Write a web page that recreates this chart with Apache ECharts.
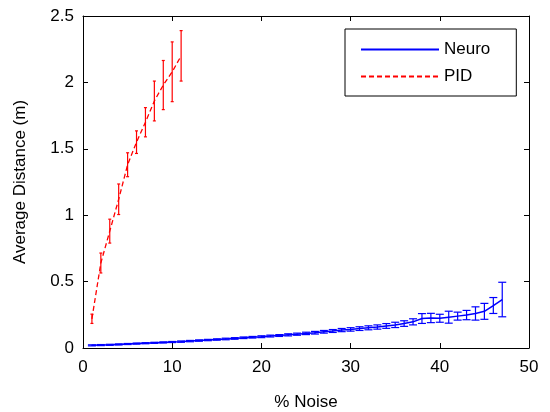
<!DOCTYPE html>
<html>
<head>
<meta charset="utf-8">
<script src="https://cdn.jsdelivr.net/npm/echarts@6/dist/echarts.min.js"></script>
<style>
  html, body { margin: 0; padding: 0; background: #fff; }
  #chart { width: 550px; height: 412px; }
</style>
</head>
<body>
<div id="chart"></div>
<script>
// Neuro: noise % 1..47
var neuroX = [1,2,3,4,5,6,7,8,9,10,11,12,13,14,15,16,17,18,19,20,21,22,23,24,25,26,27,28,29,30,31,32,33,34,35,36,37,38,39,40,41,42,43,44,45,46,47]
var neuroMean = [0.020,0.022,0.024,0.027,0.030,0.033,0.036,0.039,0.042,0.045,0.048,0.052,0.056,0.060,0.064,0.068,0.072,0.077,0.081,0.085,0.090,0.094,0.099,0.104,0.110,0.115,0.122,0.128,0.135,0.140,0.146,0.152,0.158,0.166,0.174,0.184,0.197,0.222,0.226,0.224,0.232,0.240,0.248,0.260,0.276,0.320,0.365]
var neuroErr = [0.004,0.004,0.004,0.004,0.004,0.004,0.004,0.004,0.004,0.004,0.005,0.005,0.005,0.005,0.005,0.006,0.006,0.006,0.006,0.007,0.007,0.007,0.008,0.008,0.009,0.010,0.010,0.011,0.012,0.013,0.014,0.015,0.016,0.018,0.020,0.021,0.023,0.037,0.035,0.030,0.045,0.030,0.035,0.050,0.060,0.060,0.130]

// PID: noise % 1..11
var pidX = [1,2,3,4,5,6,7,8,9,10,11]
var pidMean = [0.22,0.64,0.88,1.12,1.38,1.55,1.70,1.86,1.98,2.08,2.20]
var pidErr = [0.035,0.075,0.09,0.115,0.09,0.085,0.11,0.15,0.185,0.225,0.19]

var xTicks = { min: 0, max: 50, step: 10 }
var yTicks = { min: 0, max: 2.5, step: 0.5 }

var chart = echarts.init(document.getElementById('chart'))
var font = 'Liberation Sans, Arial, Helvetica, sans-serif'

function pairs (xs, ys) {
  return xs.map(function (x, i) { return [x, ys[i]] })
}
function bars (xs, ys, es) {
  return xs.map(function (x, i) { return [x, ys[i] - es[i], ys[i] + es[i]] })
}
// error bar drawer, cap = half cap width in px
function errRender (color, cap) {
  return function (params, api) {
    var lo = api.coord([api.value(0), api.value(1)])
    var hi = api.coord([api.value(0), api.value(2)])
    var st = { stroke: color, lineWidth: 1.2 }
    return {
      type: 'group',
      children: [
        { type: 'line', shape: { x1: lo[0], y1: lo[1], x2: hi[0], y2: hi[1] }, style: st },
        { type: 'line', shape: { x1: lo[0] - cap, y1: lo[1], x2: lo[0] + cap, y2: lo[1] }, style: st },
        { type: 'line', shape: { x1: hi[0] - cap, y1: hi[1], x2: hi[0] + cap, y2: hi[1] }, style: st }
      ]
    }
  }
}

var axisCommon = {
  type: 'value',
  axisLine: { show: true, onZero: false, lineStyle: { color: '#000', width: 1 } },
  axisTick: { show: true, inside: true, length: 5, lineStyle: { color: '#000' } },
  splitLine: { show: false }
}

var option = {
  animation: false,
  backgroundColor: '#fff',
  grid: { left: 83, right: 21, top: 16, bottom: 64, show: false, outerBoundsMode: 'none' },
  legend: {
    data: ['Neuro', 'PID'],
    orient: 'vertical',
    left: 345,
    top: 29,
    padding: [12, 26, 11, 15],
    itemGap: 10,
    itemWidth: 78,
    itemHeight: 14,
    itemStyle: { opacity: 0 },
    borderColor: '#000',
    borderWidth: 1,
    backgroundColor: '#fff',
    textStyle: { color: '#000', fontSize: 17, fontFamily: font }
  },
  xAxis: [
    Object.assign({}, axisCommon, {
      min: xTicks.min, max: xTicks.max, interval: xTicks.step,
      position: 'bottom',
      name: '% Noise', nameLocation: 'middle', nameGap: 46,
      nameTextStyle: { color: '#000', fontSize: 17, fontFamily: font },
      axisLabel: { color: '#000', fontSize: 17, fontFamily: font, margin: 11 }
    }),
    Object.assign({}, axisCommon, {
      min: xTicks.min, max: xTicks.max, interval: xTicks.step,
      position: 'top', axisLabel: { show: false }
    })
  ],
  yAxis: [
    Object.assign({}, axisCommon, {
      min: yTicks.min, max: yTicks.max, interval: yTicks.step,
      position: 'left',
      name: 'Average Distance (m)', nameLocation: 'middle', nameGap: 54,
      nameTextStyle: { color: '#000', fontSize: 17, fontFamily: font },
      axisLabel: { color: '#000', fontSize: 17, fontFamily: font, margin: 9 }
    }),
    Object.assign({}, axisCommon, {
      min: yTicks.min, max: yTicks.max, interval: yTicks.step,
      position: 'right', axisLabel: { show: false }
    })
  ],
  series: [
    {
      name: 'Neuro',
      type: 'line',
      data: pairs(neuroX, neuroMean),
      symbol: 'none',
      lineStyle: { color: '#0000ff', width: 1.5 },
      itemStyle: { color: '#0000ff' },
      z: 3
    },
    {
      name: 'PID',
      type: 'line',
      data: pairs(pidX, pidMean),
      symbol: 'none',
      lineStyle: { color: '#ff0000', width: 1.3, type: [5, 3] },
      itemStyle: { color: '#ff0000' },
      z: 3
    },
    {
      name: 'Neuro err',
      type: 'custom',
      data: bars(neuroX, neuroMean, neuroErr),
      renderItem: errRender('#0000ff', 4),
      encode: { x: 0, y: [1, 2] },
      z: 2
    },
    {
      name: 'PID err',
      type: 'custom',
      data: bars(pidX, pidMean, pidErr),
      renderItem: errRender('#ff0000', 1.5),
      encode: { x: 0, y: [1, 2] },
      z: 2
    }
  ]
}
chart.setOption(option)
</script>
</body>
</html>
